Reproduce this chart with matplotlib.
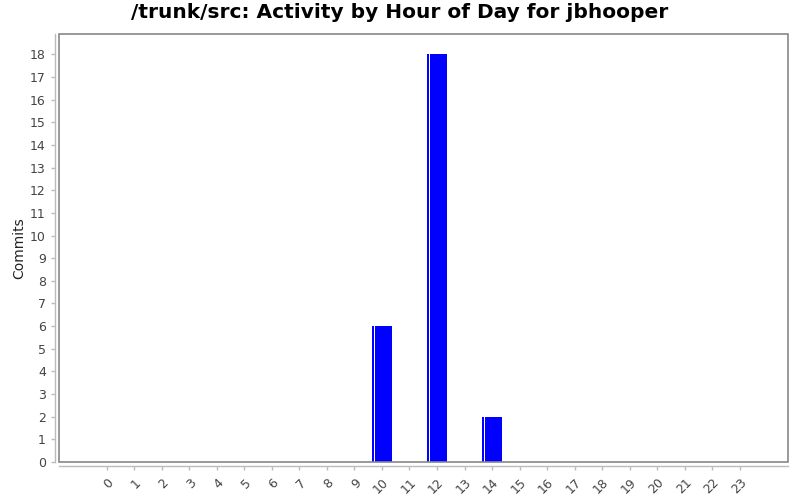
import numpy as np
import matplotlib

matplotlib.use("Agg")
import matplotlib.pyplot as plt
from matplotlib.patches import Rectangle

# Commits per hour of day
hours = list(range(24))
commits = [0, 0, 0, 0, 0, 0, 0, 0, 0, 0, 6, 0, 18, 0, 2, 0, 0, 0, 0, 0, 0, 0, 0, 0]

title = "/trunk/src: Activity by Hour of Day for jbhooper"
grey = "#888888"
tick_col = "#444444"

fig = plt.figure(figsize=(8, 5), dpi=100)
ax = fig.add_axes([0.07375, 0.076, 0.91125, 0.856])

bar_w = 0.72
x = np.array(hours, dtype=float)
y = np.array(commits, dtype=float)
nz = y > 0
ax.bar(x[nz], y[nz], width=bar_w, color="#0000FF", linewidth=0)
# white highlight stripe near the left edge of each bar
ax.bar(x[nz] - bar_w / 2 + 0.07, y[nz], width=0.05, color="white", linewidth=0,
       align="edge")

ax.set_xlim(-1.73, 24.75)
ax.set_ylim(0, 18.9)

ax.set_xticks(hours)
ax.set_xticklabels([str(h) for h in hours])
ax.set_yticks(range(0, 19))

# box round the plot area
ax.add_patch(Rectangle((0, 0), 1, 1, transform=ax.transAxes, fill=False,
                       edgecolor=grey, linewidth=1.2, clip_on=False, zorder=5))

for side in ("top", "right"):
    ax.spines[side].set_visible(False)
for side in ("left", "bottom"):
    ax.spines[side].set_position(("outward", 3))
    ax.spines[side].set_color("#bbbbbb")
    ax.spines[side].set_linewidth(1)

ax.tick_params(axis="both", colors="#bbbbbb", labelcolor=tick_col,
               labelsize=9, length=3, width=1)
ax.tick_params(axis="x", pad=4)
plt.setp(ax.get_xticklabels(), rotation=45, ha="right", va="top",
         rotation_mode="anchor")

ax.set_ylabel("Commits", fontsize=10, color="#222222")
ax.yaxis.set_label_coords(-0.045, 0.5)
fig.suptitle(title, fontsize=14.5, fontweight="bold", y=0.993)

fig.savefig("out.png", dpi=100)
